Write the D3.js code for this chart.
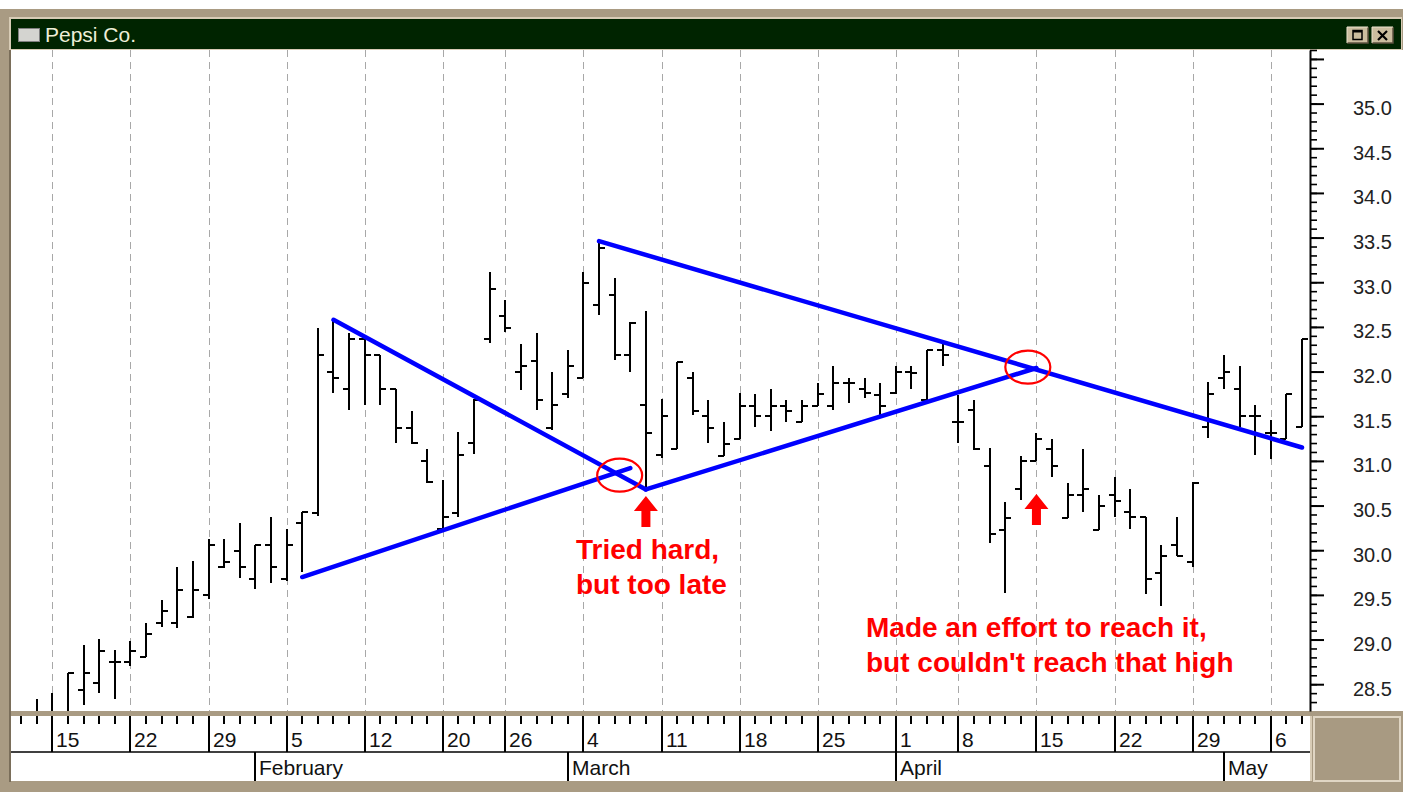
<!DOCTYPE html>
<html>
<head>
<meta charset="utf-8">
<script src="https://cdn.jsdelivr.net/npm/d3@7/dist/d3.min.js"></script>
<style>
body { margin: 0; background: #fff; }
svg text { font-family: Arial, "Liberation Sans", sans-serif; }
</style>
</head>
<body>
<div class="svg-container"></div>
<script>
// trading days shown on the chart (1996)
var dates = [
    "1996-01-11","1996-01-12",
    "1996-01-15","1996-01-16","1996-01-17","1996-01-18","1996-01-19",
    "1996-01-22","1996-01-23","1996-01-24","1996-01-25","1996-01-26",
    "1996-01-29","1996-01-30","1996-01-31","1996-02-01","1996-02-02",
    "1996-02-05","1996-02-06","1996-02-07","1996-02-08","1996-02-09",
    "1996-02-12","1996-02-13","1996-02-14","1996-02-15","1996-02-16",
    "1996-02-20","1996-02-21","1996-02-22","1996-02-23",
    "1996-02-26","1996-02-27","1996-02-28","1996-02-29","1996-03-01",
    "1996-03-04","1996-03-05","1996-03-06","1996-03-07","1996-03-08",
    "1996-03-11","1996-03-12","1996-03-13","1996-03-14","1996-03-15",
    "1996-03-18","1996-03-19","1996-03-20","1996-03-21","1996-03-22",
    "1996-03-25","1996-03-26","1996-03-27","1996-03-28","1996-03-29",
    "1996-04-01","1996-04-02","1996-04-03","1996-04-04",
    "1996-04-08","1996-04-09","1996-04-10","1996-04-11","1996-04-12",
    "1996-04-15","1996-04-16","1996-04-17","1996-04-18","1996-04-19",
    "1996-04-22","1996-04-23","1996-04-24","1996-04-25","1996-04-26",
    "1996-04-29","1996-04-30","1996-05-01","1996-05-02","1996-05-03",
    "1996-05-06","1996-05-07","1996-05-08"
];

var open = [
    null, 28.10,
    28.15, 28.12, 28.44, 28.51, 28.75,
    28.75, 28.81, 29.19, 29.19, 29.25,
    29.50, 29.81, 29.99, 29.68, 30.06,
    29.68, 30.30, 30.42, 31.99, 31.80,
    32.36, 32.18, 31.80, 31.37, 31.00,
    30.24, 30.42, 31.20, 32.36,
    32.62, 31.99, 32.12, 31.37, 31.75,
    31.93, 32.74, 32.86, 32.18, 31.63,
    31.07, 31.13, 31.93, 31.50, 31.06,
    31.25, 31.62, 31.50, 31.62, 31.44,
    31.62, 31.62, 31.87, 31.81, 31.74,
    31.76, 32.00, 31.68, 32.24,
    31.44, 31.57, 30.94, 30.23, 30.69,
    31.00, 31.13, 30.36, 30.62, 30.23,
    30.62, 30.43, 30.37, 29.75, 30.06,
    29.87, 31.38, 31.93, 31.81, 31.50,
    31.31, 31.25, 31.38
];
var high = [
    null, 28.33,
    28.40, 28.63, 28.94, 29.01, 28.88,
    28.98, 29.19, 29.44, 29.81, 29.88,
    30.12, 30.12, 30.31, 30.06, 30.37,
    30.24, 30.43, 32.49, 32.58, 32.43,
    32.37, 32.19, 31.81, 31.56, 31.13,
    30.79, 31.32, 31.69, 33.11,
    32.80, 32.31, 32.43, 32.00, 32.24,
    33.11, 33.46, 33.05, 32.55, 32.68,
    31.69, 32.11, 32.00, 31.68, 31.44,
    31.76, 31.75, 31.81, 31.68, 31.68,
    31.87, 32.06, 31.93, 31.93, 31.87,
    32.06, 32.06, 32.24, 32.33,
    31.74, 31.68, 31.14, 30.54, 31.05,
    31.31, 31.25, 30.75, 31.13, 30.62,
    30.82, 30.69, 30.37, 30.06, 30.37,
    30.76, 31.88, 32.19, 32.06, 31.63,
    31.46, 31.75, 32.36
];
var low = [
    null, 28.05,
    28.05, 28.05, 28.27, 28.40, 28.33,
    28.70, 28.81, 29.14, 29.13, 29.24,
    29.45, 29.80, 29.69, 29.57, 29.63,
    29.66, 29.76, 30.38, 31.76, 31.57,
    31.63, 31.63, 31.20, 31.19, 30.75,
    30.24, 30.37, 31.08, 32.32,
    32.44, 31.79, 31.57, 31.35, 31.70,
    31.93, 32.63, 32.13, 32.00, 30.66,
    31.03, 31.13, 31.51, 31.20, 31.05,
    31.25, 31.38, 31.33, 31.44, 31.43,
    31.62, 31.57, 31.65, 31.70, 31.50,
    31.75, 31.81, 31.68, 32.06,
    31.20, 31.12, 30.08, 29.52, 30.56,
    31.00, 30.82, 30.36, 30.43, 30.23,
    30.37, 30.24, 29.51, 29.38, 29.93,
    29.81, 31.26, 31.81, 31.38, 31.07,
    31.02, 31.25, 31.38
];
var close = [
    null, 28.15,
    28.18, 28.63, 28.63, 28.87, 28.75,
    28.87, 29.06, 29.32, 29.56, 29.56,
    30.06, 29.87, 29.81, 30.06, 29.81,
    30.06, 30.43, 32.18, 31.93, 32.36,
    32.18, 31.81, 31.37, 31.20, 30.76,
    30.37, 31.07, 31.68, 32.92,
    32.49, 32.06, 31.68, 31.63, 32.06,
    32.99, 33.38, 32.18, 32.54, 31.31,
    31.50, 32.11, 31.56, 31.37, 31.19,
    31.62, 31.50, 31.62, 31.56, 31.62,
    31.75, 31.87, 31.87, 31.76, 31.62,
    31.99, 31.98, 32.24, 32.19,
    31.44, 31.13, 30.18, 30.36, 31.00,
    31.25, 30.94, 30.62, 30.69, 30.49,
    30.55, 30.37, 29.68, 29.93, 29.93,
    30.75, 31.75, 31.99, 31.50, 31.50,
    31.31, 31.75, 32.36
];

// axis labels
var weekStarts = ["1996-01-15","1996-01-22","1996-01-29","1996-02-05","1996-02-12","1996-02-20","1996-02-26",
    "1996-03-04","1996-03-11","1996-03-18","1996-03-25","1996-04-01","1996-04-08","1996-04-15",
    "1996-04-22","1996-04-29","1996-05-06"];
var weekLabels = ["15","22","29","5","12","20","26","4","11","18","25","1","8","15","22","29","6"];
var monthStarts = ["1996-02-01","1996-03-01","1996-04-01","1996-05-01"];
var monthLabels = ["February","March","April","May"];
var priceLabels = [28.5, 29.0, 29.5, 30.0, 30.5, 31.0, 31.5, 32.0, 32.5, 33.0, 33.5, 34.0, 34.5, 35.0];

// trend lines drawn on the chart: [date, price] -> [date, price]
var trendStart = [["1996-02-06", 29.70], ["1996-02-08", 32.58], ["1996-03-08", 30.68], ["1996-03-05", 33.46]];
var trendEnd   = [["1996-03-07", 30.92], ["1996-03-08", 30.68], ["1996-04-15", 32.04], ["1996-05-08", 31.15]];

// annotations
var circleDates = ["1996-03-06", "1996-04-12"];
var circlePrices = [30.84, 32.05];
var arrowDates = ["1996-03-08", "1996-04-15"];
var noteLines = [["Tried hard,", "but too late"], ["Made an effort to reach it,", "but couldn't reach that high"]];

var W = 1403, H = 792;
var plotLeft = 11, plotRight = 1310, plotTop = 50, plotBottom = 711;
var tan = "#a99b83";

var svg = d3.select(".svg-container").append("svg")
    .attr("width", W)
    .attr("height", H);

// window frame
svg.append("rect").attr("x", 0).attr("y", 0).attr("width", W).attr("height", H).attr("fill", "#fff");
svg.append("rect").attr("x", 0).attr("y", 9).attr("width", W).attr("height", H - 9).attr("fill", tan);
svg.append("rect").attr("x", 9).attr("y", 17).attr("width", 1393).attr("height", 33).attr("fill", "#d8ccb6");
svg.append("rect").attr("x", 11).attr("y", 19).attr("width", 1390).attr("height", 30).attr("fill", "#002400");
svg.append("rect").attr("x", plotLeft).attr("y", plotTop).attr("width", W - plotLeft).attr("height", plotBottom - plotTop).attr("fill", "#fff");
svg.append("line").attr("x1", 10).attr("x2", 10).attr("y1", plotTop).attr("y2", 782).attr("stroke", "#6b5f4c").attr("stroke-width", 1.5);

// title bar
svg.append("rect").attr("x", 18.5).attr("y", 28.5).attr("width", 21).attr("height", 13)
    .attr("fill", "#d4d4d0").attr("stroke", "#808080");
svg.append("text").attr("x", 45).attr("y", 42).attr("fill", "#eeeed8")
    .style("font-size", "21px").text("Pepsi Co.");

var btnX = [1347, 1372];
btnX.forEach(function(bx, i) {
    svg.append("rect").attr("x", bx).attr("y", 27).attr("width", 21).attr("height", 16).attr("fill", "#cbbd9f");
    svg.append("path").attr("d", "M" + bx + ",43 h21 v-16").attr("fill", "none").attr("stroke", "#5e5240").attr("stroke-width", 1.5);
    svg.append("path").attr("d", "M" + bx + ",43 v-16 h21").attr("fill", "none").attr("stroke", "#eee4d0").attr("stroke-width", 1);
    if (i == 0) {
        svg.append("rect").attr("x", bx + 6).attr("y", 30.5).attr("width", 9).attr("height", 9)
            .attr("fill", "none").attr("stroke", "#000").attr("stroke-width", 1.5);
        svg.append("line").attr("x1", bx + 6).attr("x2", bx + 15).attr("y1", 31.5).attr("y2", 31.5).attr("stroke", "#000").attr("stroke-width", 2);
    } else {
        svg.append("path").attr("d", "M" + (bx + 6) + ",31 l9,9 M" + (bx + 15) + ",31 l-9,9")
            .attr("stroke", "#000").attr("stroke-width", 2.2);
    }
});

// X
var x = d3.scalePoint().domain(dates).range([21.06, 1302]);
// Y
var y = d3.scaleLinear().domain([28.2, 35.6]).range([plotBottom, plotTop]);

var clip = svg.append("clipPath").attr("id", "plot-clip")
    .append("rect").attr("x", plotLeft).attr("y", plotTop).attr("width", plotRight - plotLeft).attr("height", plotBottom - plotTop);

var plot = svg.append("g").attr("clip-path", "url(#plot-clip)");

// weekly grid
plot.selectAll(".grid").data(weekStarts).enter().append("line")
    .attr("class", "grid")
    .attr("x1", function(d) { return Math.round(x(d)) + 0.5; })
    .attr("x2", function(d) { return Math.round(x(d)) + 0.5; })
    .attr("y1", plotTop).attr("y2", plotBottom)
    .attr("stroke", "#a8a8a8").attr("stroke-width", 1)
    .attr("stroke-dasharray", "7,5");

// price bars
var bars = dates.map(function(d, i) {
    return { date: d, o: open[i], h: high[i], l: low[i], c: close[i] };
}).filter(function(d) { return d.h != null; });

var bar = plot.selectAll(".bar").data(bars).enter().append("g").attr("class", "bar")
    .attr("stroke", "#000").attr("stroke-width", 2).attr("shape-rendering", "crispEdges");
bar.append("line")
    .attr("x1", function(d) { return Math.round(x(d.date)); })
    .attr("x2", function(d) { return Math.round(x(d.date)); })
    .attr("y1", function(d) { return y(d.h); })
    .attr("y2", function(d) { return y(d.l); });
bar.append("line")
    .attr("x1", function(d) { return Math.round(x(d.date)) - 6; })
    .attr("x2", function(d) { return Math.round(x(d.date)); })
    .attr("y1", function(d) { return Math.round(y(d.o)); })
    .attr("y2", function(d) { return Math.round(y(d.o)); });
bar.append("line")
    .attr("x1", function(d) { return Math.round(x(d.date)); })
    .attr("x2", function(d) { return Math.round(x(d.date)) + 6; })
    .attr("y1", function(d) { return Math.round(y(d.c)); })
    .attr("y2", function(d) { return Math.round(y(d.c)); });

// trend lines
plot.selectAll(".trend").data(trendStart).enter().append("line")
    .attr("class", "trend")
    .attr("x1", function(d) { return x(d[0]); })
    .attr("y1", function(d) { return y(d[1]); })
    .attr("x2", function(d, i) { return x(trendEnd[i][0]); })
    .attr("y2", function(d, i) { return y(trendEnd[i][1]); })
    .attr("stroke", "#0000ff").attr("stroke-width", 4.5).attr("stroke-linecap", "round");

// red circles
var circleShift = [5, 7];
plot.selectAll(".ring").data(circleDates).enter().append("ellipse")
    .attr("class", "ring")
    .attr("cx", function(d, i) { return x(d) + circleShift[i]; })
    .attr("cy", function(d, i) { return y(circlePrices[i]); })
    .attr("rx", 22.5).attr("ry", 16.5)
    .attr("fill", "none").attr("stroke", "#ff0000").attr("stroke-width", 2.2);

// red arrows
var arrowTop = [496, 494];
plot.selectAll(".arrow").data(arrowDates).enter().append("path")
    .attr("class", "arrow")
    .attr("d", function(d, i) {
        var cx = x(d), t = arrowTop[i];
        return "M" + cx + "," + t + " L" + (cx + 12) + "," + (t + 15) + " L" + (cx + 4.5) + "," + (t + 15)
            + " L" + (cx + 4.5) + "," + (t + 31) + " L" + (cx - 4.5) + "," + (t + 31) + " L" + (cx - 4.5) + "," + (t + 15)
            + " L" + (cx - 12) + "," + (t + 15) + " Z";
    })
    .attr("fill", "#ff0000");

// notes
var notePos = [[576, 559, 35], [866, 637, 35]];
noteLines.forEach(function(lines, i) {
    svg.append("text")
        .attr("x", notePos[i][0]).attr("y", notePos[i][1])
        .attr("fill", "#ff0000")
        .style("font-size", "28px").style("font-weight", "bold")
        .selectAll("tspan").data(lines).enter().append("tspan")
        .attr("x", notePos[i][0])
        .attr("dy", function(d, j) { return j == 0 ? 0 : notePos[i][2]; })
        .text(function(d) { return d; });
});

// Y axis (right)
var minorTicks = d3.range(283, 357).map(function(v) { return v / 10; });
svg.append("g")
    .attr("transform", "translate(" + plotRight + ",0)")
    .call(d3.axisRight(y).tickValues(minorTicks).tickSize(7).tickSizeOuter(0).tickFormat(""))
    .call(function(g) { g.selectAll("line").attr("stroke-width", 1.6); g.select(".domain").attr("stroke-width", 2); });

var yAxis = svg.append("g")
    .attr("transform", "translate(" + plotRight + ",0)")
    .call(d3.axisRight(y).tickValues(priceLabels.concat([35.5])).tickSize(14).tickSizeOuter(0).tickPadding(29)
        .tickFormat(function(d) { return d == 35.5 ? "" : d3.format(".1f")(d); }));
yAxis.select(".domain").remove();
yAxis.selectAll("line").attr("stroke-width", 2);
yAxis.selectAll("text")
    .attr("fill", "#222").attr("dy", "0.55em")
    .style("font-size", "20px").style("font-family", "Arial, 'Liberation Sans', sans-serif");

// date axis panel
var rowTop = 716, rowMid = 752, rowBottom = 781;
svg.append("rect").attr("x", plotLeft).attr("y", rowTop).attr("width", plotRight - plotLeft).attr("height", rowBottom - rowTop).attr("fill", "#fff");
svg.append("rect").attr("x", 1314).attr("y", 717).attr("width", 86).attr("height", 64)
    .attr("fill", "#a89a82").attr("stroke", "#e0d6c4").attr("stroke-width", 2);
svg.append("line").attr("x1", plotLeft).attr("x2", plotRight).attr("y1", rowMid).attr("y2", rowMid)
    .attr("stroke", "#000").attr("stroke-width", 1.5);
svg.append("line").attr("x1", plotRight + 1).attr("x2", plotRight + 1).attr("y1", rowTop).attr("y2", rowBottom)
    .attr("stroke", "#d8ccb6").attr("stroke-width", 2);

var dateAxis = svg.append("g").attr("shape-rendering", "crispEdges");
dateAxis.selectAll(".dtick").data(dates).enter().append("line")
    .attr("x1", function(d) { return Math.round(x(d)); })
    .attr("x2", function(d) { return Math.round(x(d)); })
    .attr("y1", rowTop).attr("y2", rowTop + 8)
    .attr("stroke", "#000").attr("stroke-width", 1.5);
dateAxis.selectAll(".wtick").data(weekStarts).enter().append("line")
    .attr("x1", function(d) { return Math.round(x(d)); })
    .attr("x2", function(d) { return Math.round(x(d)); })
    .attr("y1", rowTop).attr("y2", rowMid)
    .attr("stroke", "#000").attr("stroke-width", 1.5);
dateAxis.selectAll(".wlabel").data(weekStarts).enter().append("text")
    .attr("x", function(d) { return Math.round(x(d)) + 4; })
    .attr("y", 747)
    .attr("fill", "#111")
    .style("font-size", "21px")
    .text(function(d, i) { return weekLabels[i]; });
dateAxis.selectAll(".mtick").data(monthStarts).enter().append("line")
    .attr("x1", function(d) { return Math.round(x(d)); })
    .attr("x2", function(d) { return Math.round(x(d)); })
    .attr("y1", rowMid).attr("y2", rowBottom)
    .attr("stroke", "#000").attr("stroke-width", 1.5);
dateAxis.selectAll(".mlabel").data(monthStarts).enter().append("text")
    .attr("x", function(d) { return Math.round(x(d)) + 4; })
    .attr("y", 775)
    .attr("fill", "#111")
    .style("font-size", "21px")
    .text(function(d, i) { return monthLabels[i]; });
</script>
</body>
</html>
